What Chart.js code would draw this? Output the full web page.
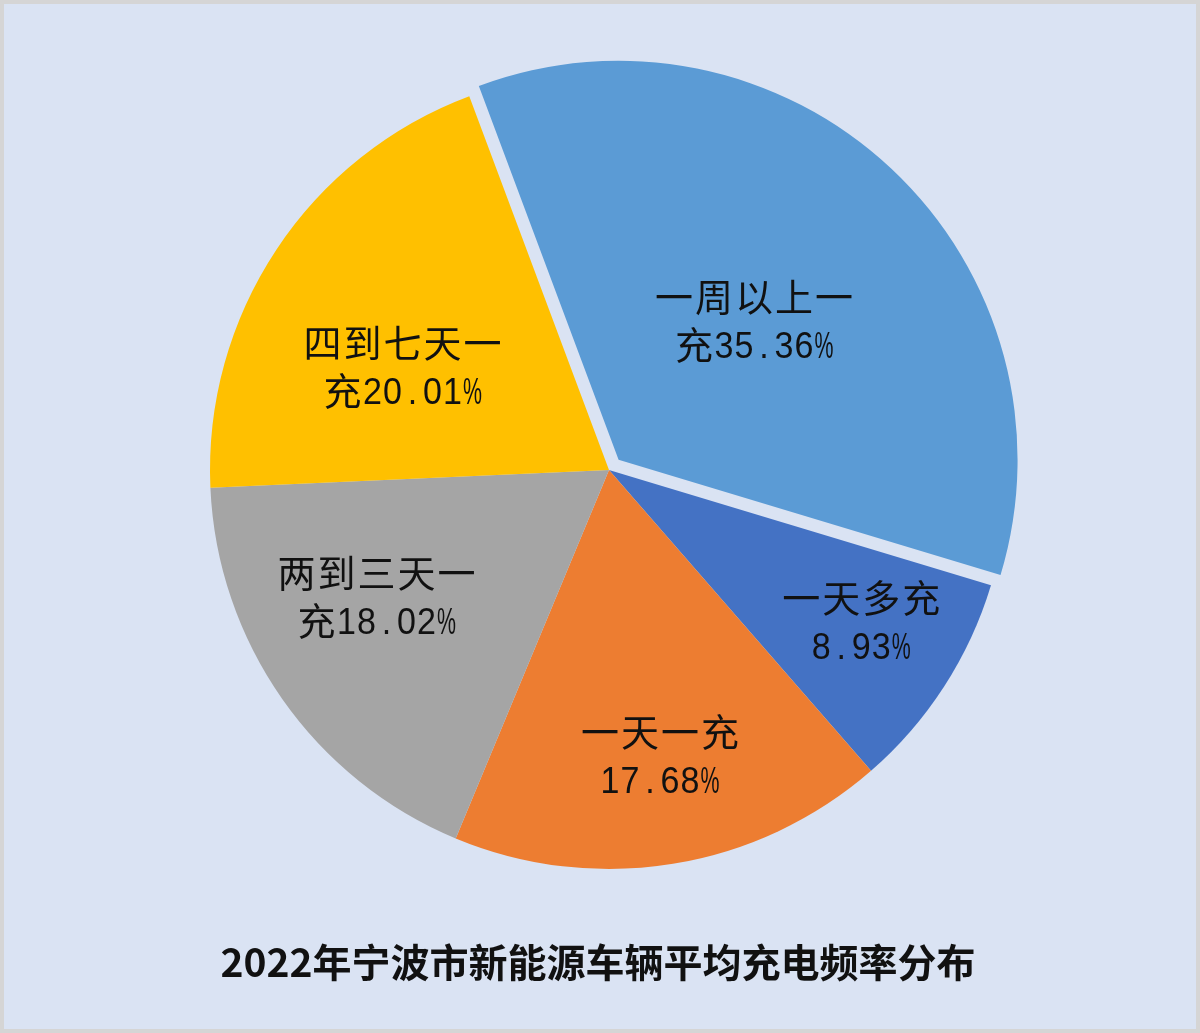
<!DOCTYPE html>
<html><head><meta charset="utf-8">
<script src="https://cdn.jsdelivr.net/npm/chart.js@4.4.0/dist/chart.umd.min.js"></script>
<style>
html,body{margin:0;padding:0;background:#d6d6d6;}
#frame{position:relative;width:1200px;height:1033px;background:#d5d5d5;overflow:hidden;}
#bg{position:absolute;left:4px;top:4px;right:4px;bottom:4px;background:#dae3f3;}
#c{position:absolute;left:0;top:0;}
</style></head><body>
<div id="frame"><div id="bg"></div><canvas id="c" width="1200" height="1033"></canvas></div>
<script>
// ---- data ----
const categories = ['一周以上一充', '一天多充', '一天一充', '两到三天一充', '四到七天一充'];
const shares = [35.36, 8.93, 17.68, 18.02, 20.01];
const chartTitle = '2022年宁波市新能源车辆平均充电频率分布';

// ---- styles ----
const sliceColors = ['#5b9bd5', '#4472c4', '#ed7d31', '#a5a5a5', '#ffc000'];

const isAscii = ch => ch.charCodeAt(0) < 128;

const explodePlugin = {
  id: 'explode',
  afterDatasetsUpdate(chart, args, opts) {
    const meta = chart.getDatasetMeta(0);
    (opts.items || []).forEach(({index, distance}) => {
      const arc = meta.data[index];
      if (!arc) return;
      const mid = (arc.startAngle + arc.endAngle) / 2;
      arc.x += Math.cos(mid) * distance;
      arc.y += Math.sin(mid) * distance;
    });
  }
};

function tokenize(s) {
  const toks = [];
  let cur = '';
  for (const ch of s) {
    if (isAscii(ch)) { cur += ch; }
    else { if (cur) { toks.push(cur); cur = ''; } toks.push(ch); }
  }
  if (cur) toks.push(cur);
  return toks;
}

const labelPlugin = {
  id: 'sliceLabels',
  afterDatasetsDraw(chart, args, opts) {
    const ctx = chart.ctx;
    const meta = chart.getDatasetMeta(0);
    const cjkW = opts.cjkCell, ascW = opts.asciiCell;
    const tokW = t => [...t].reduce((a, ch) => a + (isAscii(ch) ? ascW : cjkW), 0);
    meta.data.forEach((arc, i) => {
      const p = opts.positions[i];
      const mid = (arc.startAngle + arc.endAngle) / 2 + p.dAngle * Math.PI / 180;
      const r = arc.outerRadius * p.r;
      const cx = arc.x + Math.cos(mid) * r;
      const cy = arc.y + Math.sin(mid) * r;
      const text = categories[i] + shares[i].toFixed(2) + '%';
      // wrap
      const lines = [];
      let line = '', lw = 0;
      for (const t of tokenize(text)) {
        const w = tokW(t);
        if (line && lw + w > opts.maxWidth) { lines.push(line); line = t; lw = w; }
        else { line += t; lw += w; }
      }
      if (line) lines.push(line);
      ctx.save();
      ctx.fillStyle = opts.color;
      ctx.textAlign = 'center';
      ctx.textBaseline = 'alphabetic';
      lines.forEach((ln, li) => {
        const ly = cy + (li - (lines.length - 1) / 2) * opts.lineHeight;
        const base = ly + opts.baselineShift;
        let x = cx - tokW(ln) / 2;
        for (const ch of ln) {
          if (isAscii(ch)) {
            ctx.font = opts.asciiFont;
            const w = ctx.measureText(ch).width;
            const s = Math.min(opts.asciiScale, (ascW - 1) / w);
            ctx.save();
            ctx.translate(x + ascW / 2, base);
            ctx.scale(s, 1);
            ctx.fillText(ch, 0, 0);
            ctx.restore();
            x += ascW;
          } else {
            ctx.font = opts.cjkFont;
            ctx.fillText(ch, x + cjkW / 2, base + 1);
            x += cjkW;
          }
        }
      });
      ctx.restore();
    });
  }
};

const titlePlugin = {
  id: 'bottomTitle',
  afterDraw(chart, args, opts) {
    const ctx = chart.ctx;
    ctx.save();
    ctx.font = opts.font;
    ctx.fillStyle = opts.color;
    ctx.textAlign = 'center';
    ctx.textBaseline = 'middle';
    ctx.fillText(opts.text, opts.x, opts.y);
    ctx.restore();
  }
};

new Chart(document.getElementById('c'), {
  type: 'pie',
  data: {
    labels: categories,
    datasets: [{
      data: shares,
      backgroundColor: sliceColors,
      borderWidth: 0
    }]
  },
  options: {
    responsive: false,
    animation: false,
    devicePixelRatio: 1,
    rotation: -20.5,
    radius: 399,
    layout: { padding: { left: 18, right: 0, top: 0, bottom: 93 } },
    plugins: {
      legend: { display: false },
      tooltip: { enabled: false },
      title: { display: false },
      explode: { items: [{ index: 0, distance: 14 }] },
      sliceLabels: {
        positions: [
          { r: 0.488, dAngle: 0.9 },
          { r: 0.737, dAngle: -1.9 },
          { r: 0.726, dAngle: -0.9 },
          { r: 0.662, dAngle: 6.6 },
          { r: 0.579, dAngle: -6.8 }
        ],
        cjkFont: '38px "Noto Sans CJK SC"',
        asciiFont: '37px "Liberation Sans"',
        cjkCell: 40,
        asciiCell: 20,
        asciiScale: 0.92,
        maxWidth: 200,
        lineHeight: 48,
        baselineShift: 14,
        color: '#111111'
      },
      bottomTitle: {
        text: chartTitle,
        font: 'bold 39px "Noto Sans CJK SC"',
        color: '#111111',
        x: 598,
        y: 962
      }
    }
  },
  plugins: [explodePlugin, labelPlugin, titlePlugin]
});
</script>
</body></html>
